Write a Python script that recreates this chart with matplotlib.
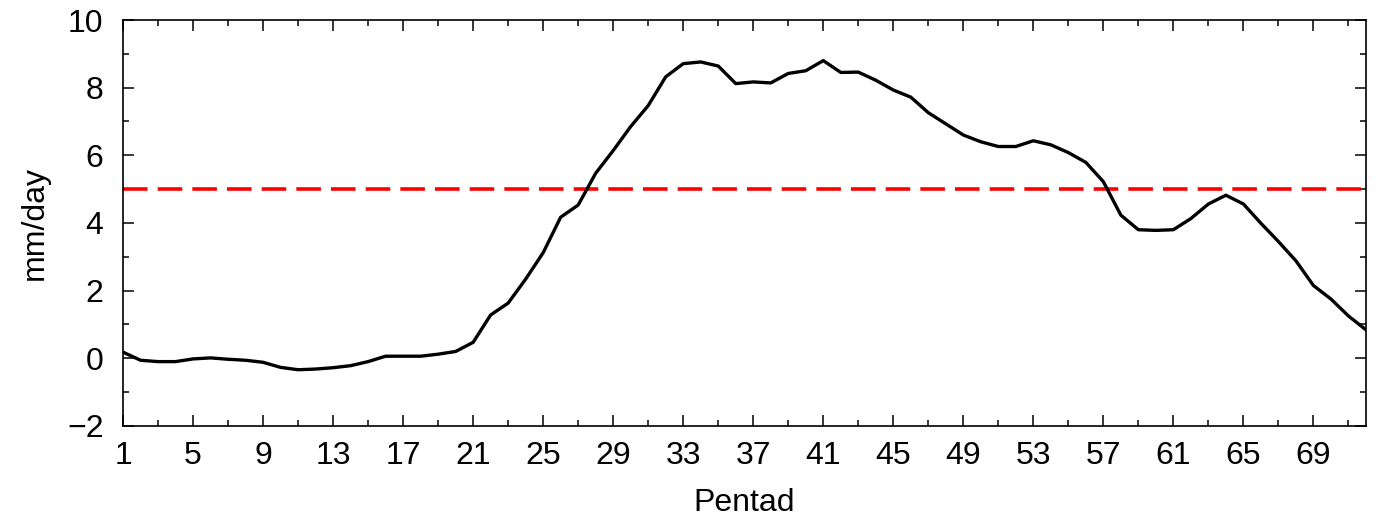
import matplotlib
matplotlib.use("Agg")
import matplotlib.pyplot as plt
from matplotlib.ticker import MultipleLocator, FixedLocator

plt.rcParams['font.family'] = ['Liberation Sans', 'DejaVu Sans']

pentads = list(range(1, 73))
rain = [0.18, -0.06, -0.10, -0.10, -0.02, 0.01, -0.03, -0.06, -0.12, -0.27,
        -0.34, -0.32, -0.28, -0.22, -0.10, 0.06, 0.06, 0.06, 0.12, 0.20,
        0.47, 1.28, 1.63, 2.34, 3.12, 4.17, 4.53, 5.47, 6.14, 6.85,
        7.47, 8.32, 8.71, 8.76, 8.64, 8.12, 8.17, 8.14, 8.42, 8.50,
        8.80, 8.45, 8.46, 8.22, 7.93, 7.72, 7.26, 6.93, 6.60, 6.40,
        6.26, 6.26, 6.43, 6.31, 6.08, 5.79, 5.22, 4.23, 3.80, 3.78,
        3.80, 4.13, 4.56, 4.82, 4.56, 3.99, 3.45, 2.88, 2.15, 1.75,
        1.25, 0.84]
threshold = 5.0
xticks = list(range(1, 72, 4))
yticks = list(range(-2, 11, 2))

fig = plt.figure(figsize=(13.76, 5.2), dpi=100)
ax = fig.add_axes([0.0894, 0.181, 0.9033, 0.7805])

ax.axhline(threshold, color='#ff0000', lw=2.6, dashes=(6.8, 2.8), zorder=2)
ax.plot(pentads, rain, color='black', lw=2.4, zorder=3)

ax.set_xlim(1, 72)
ax.set_ylim(-2, 10)
ax.xaxis.set_major_locator(FixedLocator(xticks))
ax.xaxis.set_minor_locator(FixedLocator(list(range(3, 73, 4))))
ax.yaxis.set_major_locator(FixedLocator(yticks))
ax.yaxis.set_minor_locator(MultipleLocator(1))
ax.set_xticklabels([str(t) for t in xticks])
ax.set_yticklabels(['\u22122' if t < 0 else str(t) for t in yticks])

ax.tick_params(which='both', direction='in', top=True, right=True,
               width=1.1, labelsize=23)
ax.tick_params(which='major', length=8)
ax.tick_params(which='minor', length=4)
ax.tick_params(axis='x', pad=11)
ax.tick_params(axis='y', pad=14)
for s in ax.spines.values():
    s.set_linewidth(1.2)

ax.set_xlabel('Pentad', fontsize=23, labelpad=12)
ax.set_ylabel('mm/day', fontsize=23, labelpad=12)

fig.savefig('out.png', dpi=100)
